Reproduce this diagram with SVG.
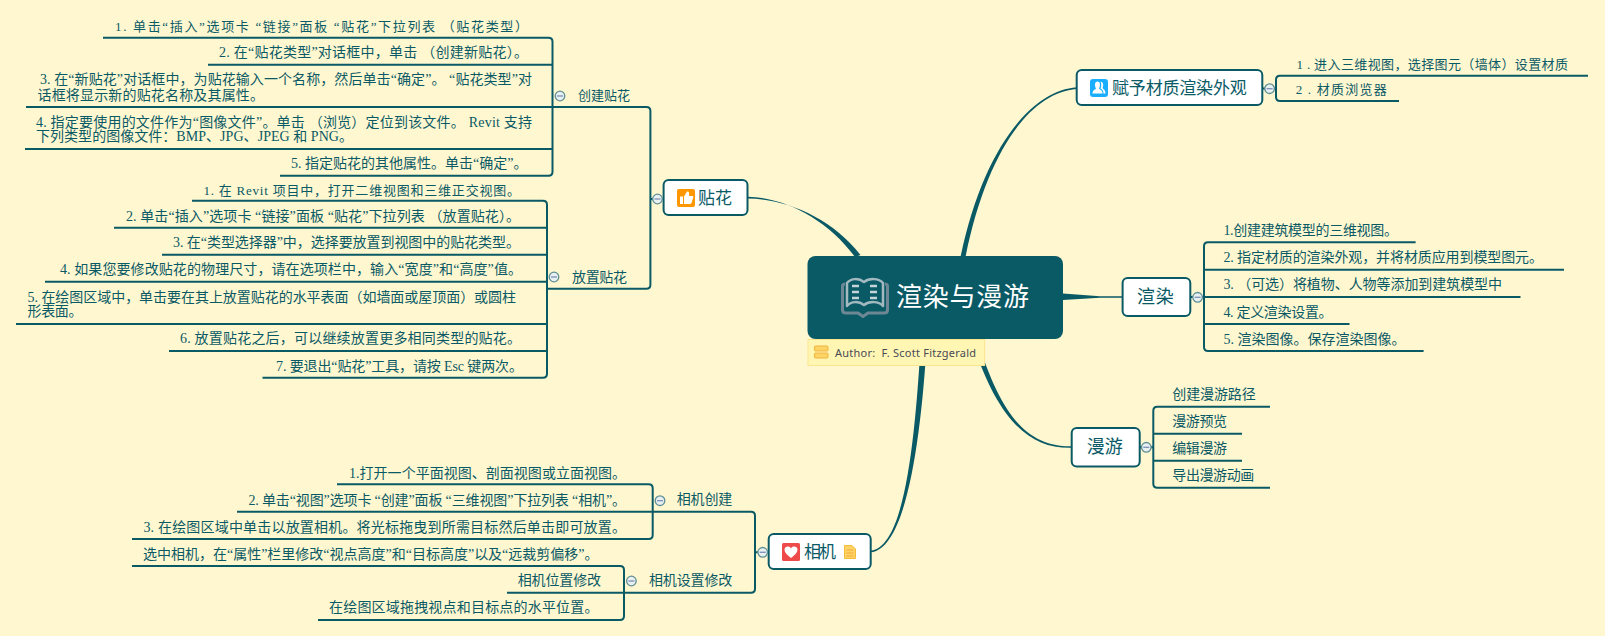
<svg xmlns="http://www.w3.org/2000/svg" width="1605" height="636" viewBox="0 0 1605 636">
<style>
text{font-family:"Liberation Serif","Noto Sans CJK SC",sans-serif;fill:#0a5a66}
.s12{font-size:13px}.s14{font-size:14px}.s16{font-size:17px}.s17{font-size:17px}.s18{font-size:18px}
.ln{fill:none;stroke:#0a5a66;stroke-width:2}
.ed{fill:#0a5a66}
.nd{fill:#fff;stroke:#0a5a66;stroke-width:2}
.tog{fill:#e8f0f0;stroke:#5f8f96;stroke-width:1.3}
.min{stroke:#7d8fb8;stroke-width:1.3}
.ic{fill:#fff}
</style>
<defs>
<g id="toggle"><circle class="tog" r="4.8"/><line class="min" x1="-3" x2="3" y1="0" y2="0"/></g>
</defs>
<rect width="1605" height="636" fill="#fff7d0"/>
<g id="connectors">
<path class="ed" d="M747.5,196.8C785,197 828,220 855,257L860.5,255C832,218 786,198.6 747.5,198.6Z"/>
<path class="ed" d="M1076.7,87.2C1030,91 983,150 960.5,257L965.5,257C987,151 1030,92.8 1076.7,89Z"/>
<path class="ed" d="M1063,293.5L1100,296.2L1122.6,296.2V297.8L1100,297.8L1063,300Z"/>
<path class="ed" d="M1071.7,446.2C1030,447 1002,420 977.5,340L972.5,342C998,421 1030,449 1071.7,447.8Z"/>
<path class="ed" d="M870.7,550.7C905,547 915,440 921,339L927,339C921,441 906,549.5 870.7,552.3Z"/>
<path class="ln" d="M103,37.7H548.5Q552.5,37.7 552.5,41.7V171.7Q552.5,175.7 548.5,175.7H280"/>
<path class="ln" d="M208,64.7H552.5M26,107H646.4Q650.4,107 650.4,111V284.7Q650.4,288.7 646.4,288.7H547M25,149H552.5"/>
<path class="ln" d="M192,200.7H543Q547,200.7 547,204.7V373.7Q547,377.7 543,377.7H262.5"/>
<path class="ln" d="M114,227.7H547M162,254.7H547M45,281.7H547M16,324H547M169,351H547"/>
<path class="ln" d="M650.4,199H663.6"/>
<path class="ln" d="M1262.3,88.5H1276M1588,75.7H1280Q1276,75.7 1276,79.7V97Q1276,101 1280,101H1399"/>
<path class="ln" d="M1190.3,297H1204M1415.6,242.3H1208Q1204,242.3 1204,246.3V347Q1204,351 1208,351H1423.6M1204,269.7H1564M1204,297H1520.5M1204,324H1349.5"/>
<path class="ln" d="M1139.7,447.3H1153.3M1270,406.7H1157.3Q1153.3,406.7 1153.3,410.7V483.7Q1153.3,487.7 1157.3,487.7H1270M1153.3,433.7H1242M1153.3,460.7H1242"/>
<path class="ln" d="M337,484.3H648.7Q652.7,484.3 652.7,488.3V535Q652.7,539 648.7,539H132M237,511.7H751Q755,511.7 755,515.7V588.7Q755,592.7 751,592.7H507M755,552.3H768.7"/>
<path class="ln" d="M132,566H620Q624,566 624,570V616Q624,620 620,620H318"/>
</g>
<g id="n-root">
<rect x="807.5" y="256" width="255.5" height="83" rx="8" fill="#0a5a66"/>
<g fill="none" stroke-linejoin="round">
<path d="M845,284C842,284 842.5,286 842.5,288V310C842.5,312.5 844,313 846,313H858L863,316.5L868,313H884C886,313 887.5,312.5 887.5,310V288C887.5,286 888,284 885,284" stroke="#6d8894" stroke-width="3"/>
<path d="M847,306C851,301 859,301 864,305C869,301 879,301 883,306V283C879,278 869,278 864,282C859,278 851,278 847,283Z" stroke="#a3b9c0" stroke-width="2.5"/>
<path d="M852,286H859M852,292H859M852,298H859M870,286H877M870,292H877M870,298H877" stroke="#c3d3d8" stroke-width="2.5"/>
</g>
<text x="896" y="306" textLength="133" style="font-size:26px;fill:#fff">渲染与漫游</text>
</g>
<g id="n-note">
<rect x="808" y="339.5" width="176.6" height="26" fill="#fff6b4" stroke="#fbe68f" stroke-width="1"/>
<rect x="814.5" y="346" width="13.5" height="5" rx="1" fill="#ffd466" stroke="#f0b43c"/>
<rect x="814.5" y="353" width="13.5" height="5" rx="1" fill="#ffd466" stroke="#f0b43c"/>
<text x="835" y="357" textLength="141" style="font-size:11px;font-family:'Noto Sans',sans-serif;fill:#4a4a55;white-space:pre">Author:  F. Scott Fitzgerald</text>
</g>
<g id="n-tiehua">
<rect class="nd" x="663.6" y="180" width="83.9" height="35" rx="5"/>
<rect x="677" y="189" width="18" height="18" rx="2" fill="#ff9800"/>
<path class="ic" d="M680,196.5H683V204H680ZM684,196.5L687,191.5C689,191 689.5,193 689,196H692.5C693.5,196 693.5,197 693,198L691.5,203C691,204 690,204 689,204H684Z"/>
<text class="s16" x="698" y="203.5" textLength="34">贴花</text>
</g>
<g id="n-caizhi">
<rect class="nd" x="1076.7" y="70" width="185.6" height="35" rx="5"/>
<rect x="1090" y="79" width="18" height="18" rx="3" fill="#1baeff"/>
<path class="ic" d="M1092.5,93.5C1092.5,90 1095,90 1096,88.5C1094.5,86 1094.5,81.5 1097.5,81.5C1100.5,81.5 1100.5,86 1099,88.5C1100,90 1102.5,90 1102.5,93.5ZM1103.5,93.5C1103.5,90.5 1102,89.5 1100.5,88.5C1101.5,86 1101.5,83.5 1100.5,81.8C1103.5,81.5 1103.8,86 1102.5,88C1103.5,89.5 1105.5,90 1105.5,93.5Z"/>
<text class="s17" x="1112" y="93.5" textLength="134.7">赋予材质渲染外观</text>
</g>
<g id="n-xuanran">
<rect class="nd" x="1122.6" y="278" width="67.7" height="38" rx="5"/>
<text class="s18" x="1137" y="303" textLength="36.7">渲染</text>
</g>
<g id="n-manyou">
<rect class="nd" x="1071.7" y="428" width="68" height="38.5" rx="5"/>
<text class="s18" x="1086.7" y="453" textLength="36">漫游</text>
</g>
<g id="n-xiangji">
<rect class="nd" x="768.7" y="534" width="102" height="35" rx="5"/>
<rect x="782" y="543" width="18" height="18" rx="1.5" fill="#ee4a4a"/>
<path class="ic" d="M791,558C787,555 784.5,552.5 784.5,549.8C784.5,546 789.5,545.5 791,548.5C792.5,545.5 797.5,546 797.5,549.8C797.5,552.5 795,555 791,558Z"/>
<text class="s16" x="804" y="557.5" textLength="32">相机</text>
<path d="M844.5,545.5H852L855.5,549V558.5H844.5Z" fill="#ffd466" stroke="#f7bb3a"/>
<path d="M846.5,550H853.5M846.5,553H853.5M846.5,556H853.5" stroke="#f2a93b" stroke-width="1"/>
</g>
<g id="toggles">
<use href="#toggle" x="560" y="96"/>
<use href="#toggle" x="554" y="277"/>
<use href="#toggle" x="657.5" y="199"/>
<use href="#toggle" x="1269.6" y="88.7"/>
<use href="#toggle" x="1197.6" y="297.3"/>
<use href="#toggle" x="1146.3" y="447.3"/>
<use href="#toggle" x="762.7" y="552.3"/>
<use href="#toggle" x="660" y="500.7"/>
<use href="#toggle" x="631.4" y="581"/>
</g>
<g id="n-chuangjian"><text class="s14" x="578" y="100" textLength="52" style="font-size:13px">创建贴花</text></g>
<g id="n-fangzhi"><text class="s14" x="572" y="281.7" textLength="55">放置贴花</text></g>
<g id="n-xjcj"><text class="s14" x="676.7" y="504" textLength="55.6">相机创建</text></g>
<g id="n-xjsz"><text class="s14" x="649" y="585" textLength="83.3">相机设置修改</text></g>
<g id="a1"><text class="s12" x="115" y="31.3" textLength="413">1.  单击“插入”选项卡 “链接”面板 “贴花”下拉列表 （贴花类型）</text></g>
<g id="a2"><text class="s14" x="219" y="57.2" textLength="309">2. 在“贴花类型”对话框中，单击 （创建新贴花）。</text></g>
<g id="a3"><text class="s14" x="40" y="84" textLength="492">3. 在“新贴花”对话框中，为贴花输入一个名称，然后单击“确定”。 “贴花类型”对</text><text class="s14" x="37.5" y="100" textLength="226.5">话框将显示新的贴花名称及其属性。</text></g>
<g id="a4"><text class="s14" x="36" y="126.7" textLength="496">4. 指定要使用的文件作为“图像文件”。单击 （浏览）定位到该文件。 Revit 支持</text><text class="s14" x="36" y="141" textLength="317">下列类型的图像文件：BMP、JPG、JPEG 和 PNG。</text></g>
<g id="a5"><text class="s14" x="291" y="168.3" textLength="236.5">5. 指定贴花的其他属性。单击“确定”。</text></g>
<g id="b1"><text class="s12" x="203.5" y="194.5" textLength="316.5">1.  在 Revit 项目中，打开二维视图和三维正交视图。</text></g>
<g id="b2"><text class="s14" x="126" y="221" textLength="394">2. 单击“插入”选项卡 “链接”面板 “贴花”下拉列表 （放置贴花）。</text></g>
<g id="b3"><text class="s14" x="173" y="247.3" textLength="347">3. 在“类型选择器”中，选择要放置到视图中的贴花类型。</text></g>
<g id="b4"><text class="s14" x="60" y="274.3" textLength="462">4. 如果您要修改贴花的物理尺寸，请在选项栏中，输入“宽度”和“高度”值。</text></g>
<g id="b5"><text class="s14" x="27.5" y="301.7" textLength="488.5">5. 在绘图区域中，单击要在其上放置贴花的水平表面（如墙面或屋顶面）或圆柱</text><text class="s14" x="27.5" y="316" textLength="55">形表面。</text></g>
<g id="b6"><text class="s14" x="180" y="343.3" textLength="341">6. 放置贴花之后，可以继续放置更多相同类型的贴花。</text></g>
<g id="b7"><text class="s14" x="276" y="370.7" textLength="247">7. 要退出“贴花”工具，请按 Esc 键两次。</text></g>
<g id="c1"><text class="s12" x="1296.4" y="68.8" textLength="271.6">1 . 进入三维视图，选择图元（墙体）设置材质</text></g>
<g id="c2"><text class="s12" x="1295.7" y="94" textLength="91">2 . 材质浏览器</text></g>
<g id="d1"><text class="s14" x="1223.4" y="235" textLength="174.6">1.创建建筑模型的三维视图。</text></g>
<g id="d2"><text class="s14" x="1223.4" y="262.3" textLength="319.6">2. 指定材质的渲染外观，并将材质应用到模型图元。</text></g>
<g id="d3"><text class="s14" x="1223.4" y="289.3" textLength="278.6">3. （可选）将植物、人物等添加到建筑模型中</text></g>
<g id="d4"><text class="s14" x="1223.4" y="316.7" textLength="109.2">4. 定义渲染设置。</text></g>
<g id="d5"><text class="s14" x="1223.4" y="343.7" textLength="182.2">5. 渲染图像。保存渲染图像。</text></g>
<g id="e1"><text class="s14" x="1172.3" y="399" textLength="83.4">创建漫游路径</text></g>
<g id="e2"><text class="s14" x="1172.3" y="426.2" textLength="54.7">漫游预览</text></g>
<g id="e3"><text class="s14" x="1172.3" y="453.3" textLength="54.7">编辑漫游</text></g>
<g id="e4"><text class="s14" x="1172.3" y="480" textLength="82">导出漫游动画</text></g>
<g id="f1"><text class="s14" x="349" y="478.3" textLength="277">1.打开一个平面视图、剖面视图或立面视图。</text></g>
<g id="f2"><text class="s14" x="248.4" y="505" textLength="377.6">2. 单击“视图”选项卡 “创建”面板 “三维视图”下拉列表 “相机”。</text></g>
<g id="f3"><text class="s14" x="143.4" y="532.3" textLength="482.6">3. 在绘图区域中单击以放置相机。将光标拖曳到所需目标然后单击即可放置。</text></g>
<g id="g1"><text class="s14" x="143" y="559.3" textLength="455.5">选中相机，在“属性”栏里修改“视点高度”和“目标高度”以及“远裁剪偏移”。</text></g>
<g id="g2"><text class="s14" x="517.7" y="585" textLength="83.3">相机位置修改</text></g>
<g id="g3"><text class="s14" x="329" y="611.7" textLength="269.5">在绘图区域拖拽视点和目标点的水平位置。</text></g>
</svg>
